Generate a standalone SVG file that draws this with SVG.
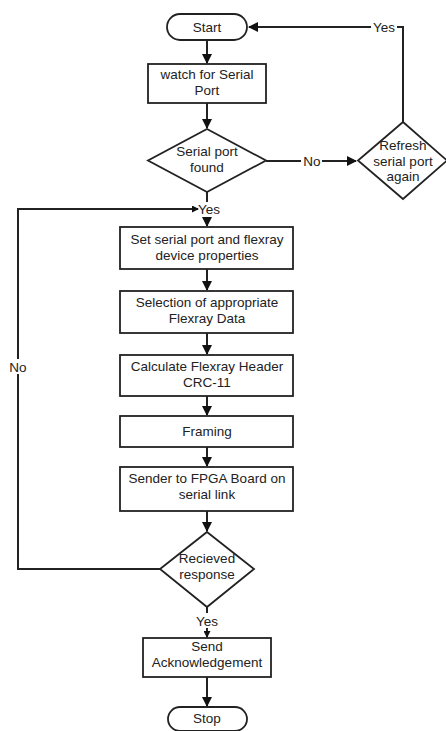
<svg xmlns="http://www.w3.org/2000/svg" width="446" height="731" viewBox="0 0 446 731">
<defs>
<style>
.n{fill:#fff;stroke:#222;stroke-width:1.8}
.t{font-family:"Liberation Sans",Arial,sans-serif;font-size:13.5px;fill:#222;text-anchor:middle}
.c{fill:none;stroke:#222;stroke-width:2}
.lb{fill:#fff}
</style>
<marker id="ah" markerWidth="10" markerHeight="10" refX="9" refY="5" orient="auto" markerUnits="userSpaceOnUse">
<path d="M0,0 L10,5 L0,10 Z" fill="#111"/>
</marker>
<marker id="as" markerWidth="7" markerHeight="7" refX="6" refY="3.5" orient="auto" markerUnits="userSpaceOnUse">
<path d="M0,0 L7,3.5 L0,7 Z" fill="#111"/>
</marker>
</defs>
<rect width="446" height="731" fill="#fff"/>
<g id="connectors">
<path class="c" d="M207,40 L207,63" marker-end="url(#ah)"/>
<path class="c" d="M207,103 L207,128" marker-end="url(#ah)"/>
<path class="c" d="M266,161 L356,161" marker-end="url(#ah)"/>
<path class="c" d="M403,122 L403,27 L249,27" marker-end="url(#ah)"/>
<path class="c" d="M207,192 L207,226" marker-end="url(#ah)"/>
<path class="c" d="M160,569 L18,569 L18,209 L198,209" marker-end="url(#as)"/>
<path class="c" d="M207,269 L207,290" marker-end="url(#ah)"/>
<path class="c" d="M207,333 L207,354" marker-end="url(#ah)"/>
<path class="c" d="M207,396 L207,415" marker-end="url(#ah)"/>
<path class="c" d="M207,447 L207,466" marker-end="url(#ah)"/>
<path class="c" d="M207,511 L207,531" marker-end="url(#ah)"/>
<path class="c" d="M207,607 L207,637" marker-end="url(#as)"/>
<path class="c" d="M207,677 L207,706" marker-end="url(#ah)"/>
<rect class="lb" x="371" y="19" width="26" height="15"/>
<text class="t" x="384" y="32">Yes</text>
<rect class="lb" x="301" y="153" width="21" height="15"/>
<text class="t" x="312" y="166">No</text>
<rect class="lb" x="199" y="202" width="18" height="15"/>
<text class="t" x="209" y="214">Yes</text>
<rect class="lb" x="7" y="359" width="22" height="15"/>
<text class="t" x="18" y="372">No</text>
<rect class="lb" x="194" y="613" width="26" height="15"/>
<text class="t" x="207" y="626">Yes</text>
</g>
<g id="start">
<rect class="n" x="167" y="14" width="80" height="26" rx="13"/>
<text class="t" x="207" y="32">Start</text>
</g>
<g id="watch">
<rect class="n" x="148" y="64" width="118" height="39"/>
<text class="t" x="207" y="79">watch for Serial</text>
<text class="t" x="207" y="94.5">Port</text>
</g>
<g id="found">
<path class="n" d="M207,129 L266,160.5 L207,192 L148,160.5 Z"/>
<text class="t" x="207" y="156">Serial port</text>
<text class="t" x="207" y="171.5">found</text>
</g>
<g id="refresh">
<path class="n" d="M403,122 L447,160.5 L403,199 L358,160.5 Z"/>
<text class="t" x="403" y="150">Refresh</text>
<text class="t" x="403" y="165.5">serial port</text>
<text class="t" x="403" y="181">again</text>
</g>
<g id="setprops">
<rect class="n" x="120" y="227" width="173" height="42"/>
<text class="t" x="207" y="244">Set serial port and flexray</text>
<text class="t" x="207" y="259.5">device properties</text>
</g>
<g id="selection">
<rect class="n" x="120" y="291" width="173" height="42"/>
<text class="t" x="207" y="307">Selection of appropriate</text>
<text class="t" x="207" y="322.5">Flexray Data</text>
</g>
<g id="crc">
<rect class="n" x="120" y="355" width="173" height="41"/>
<text class="t" x="207" y="371">Calculate Flexray Header</text>
<text class="t" x="207" y="386.5">CRC-11</text>
</g>
<g id="framing">
<rect class="n" x="120" y="416" width="173" height="31"/>
<text class="t" x="207" y="436">Framing</text>
</g>
<g id="sender">
<rect class="n" x="120" y="467" width="173" height="44"/>
<text class="t" x="207" y="483">Sender to FPGA Board on</text>
<text class="t" x="207" y="498.5">serial link</text>
</g>
<g id="received">
<path class="n" d="M207,532 L254,569 L207,607 L160,569 Z"/>
<text class="t" x="207" y="563">Recieved</text>
<text class="t" x="207" y="578.5">response</text>
</g>
<g id="ack">
<rect class="n" x="143" y="638" width="128" height="39"/>
<text class="t" x="207" y="651">Send</text>
<text class="t" x="207" y="666.5">Acknowledgement</text>
</g>
<g id="stop">
<rect class="n" x="168" y="707" width="79" height="24" rx="12"/>
<text class="t" x="207" y="723">Stop</text>
</g>
</svg>
